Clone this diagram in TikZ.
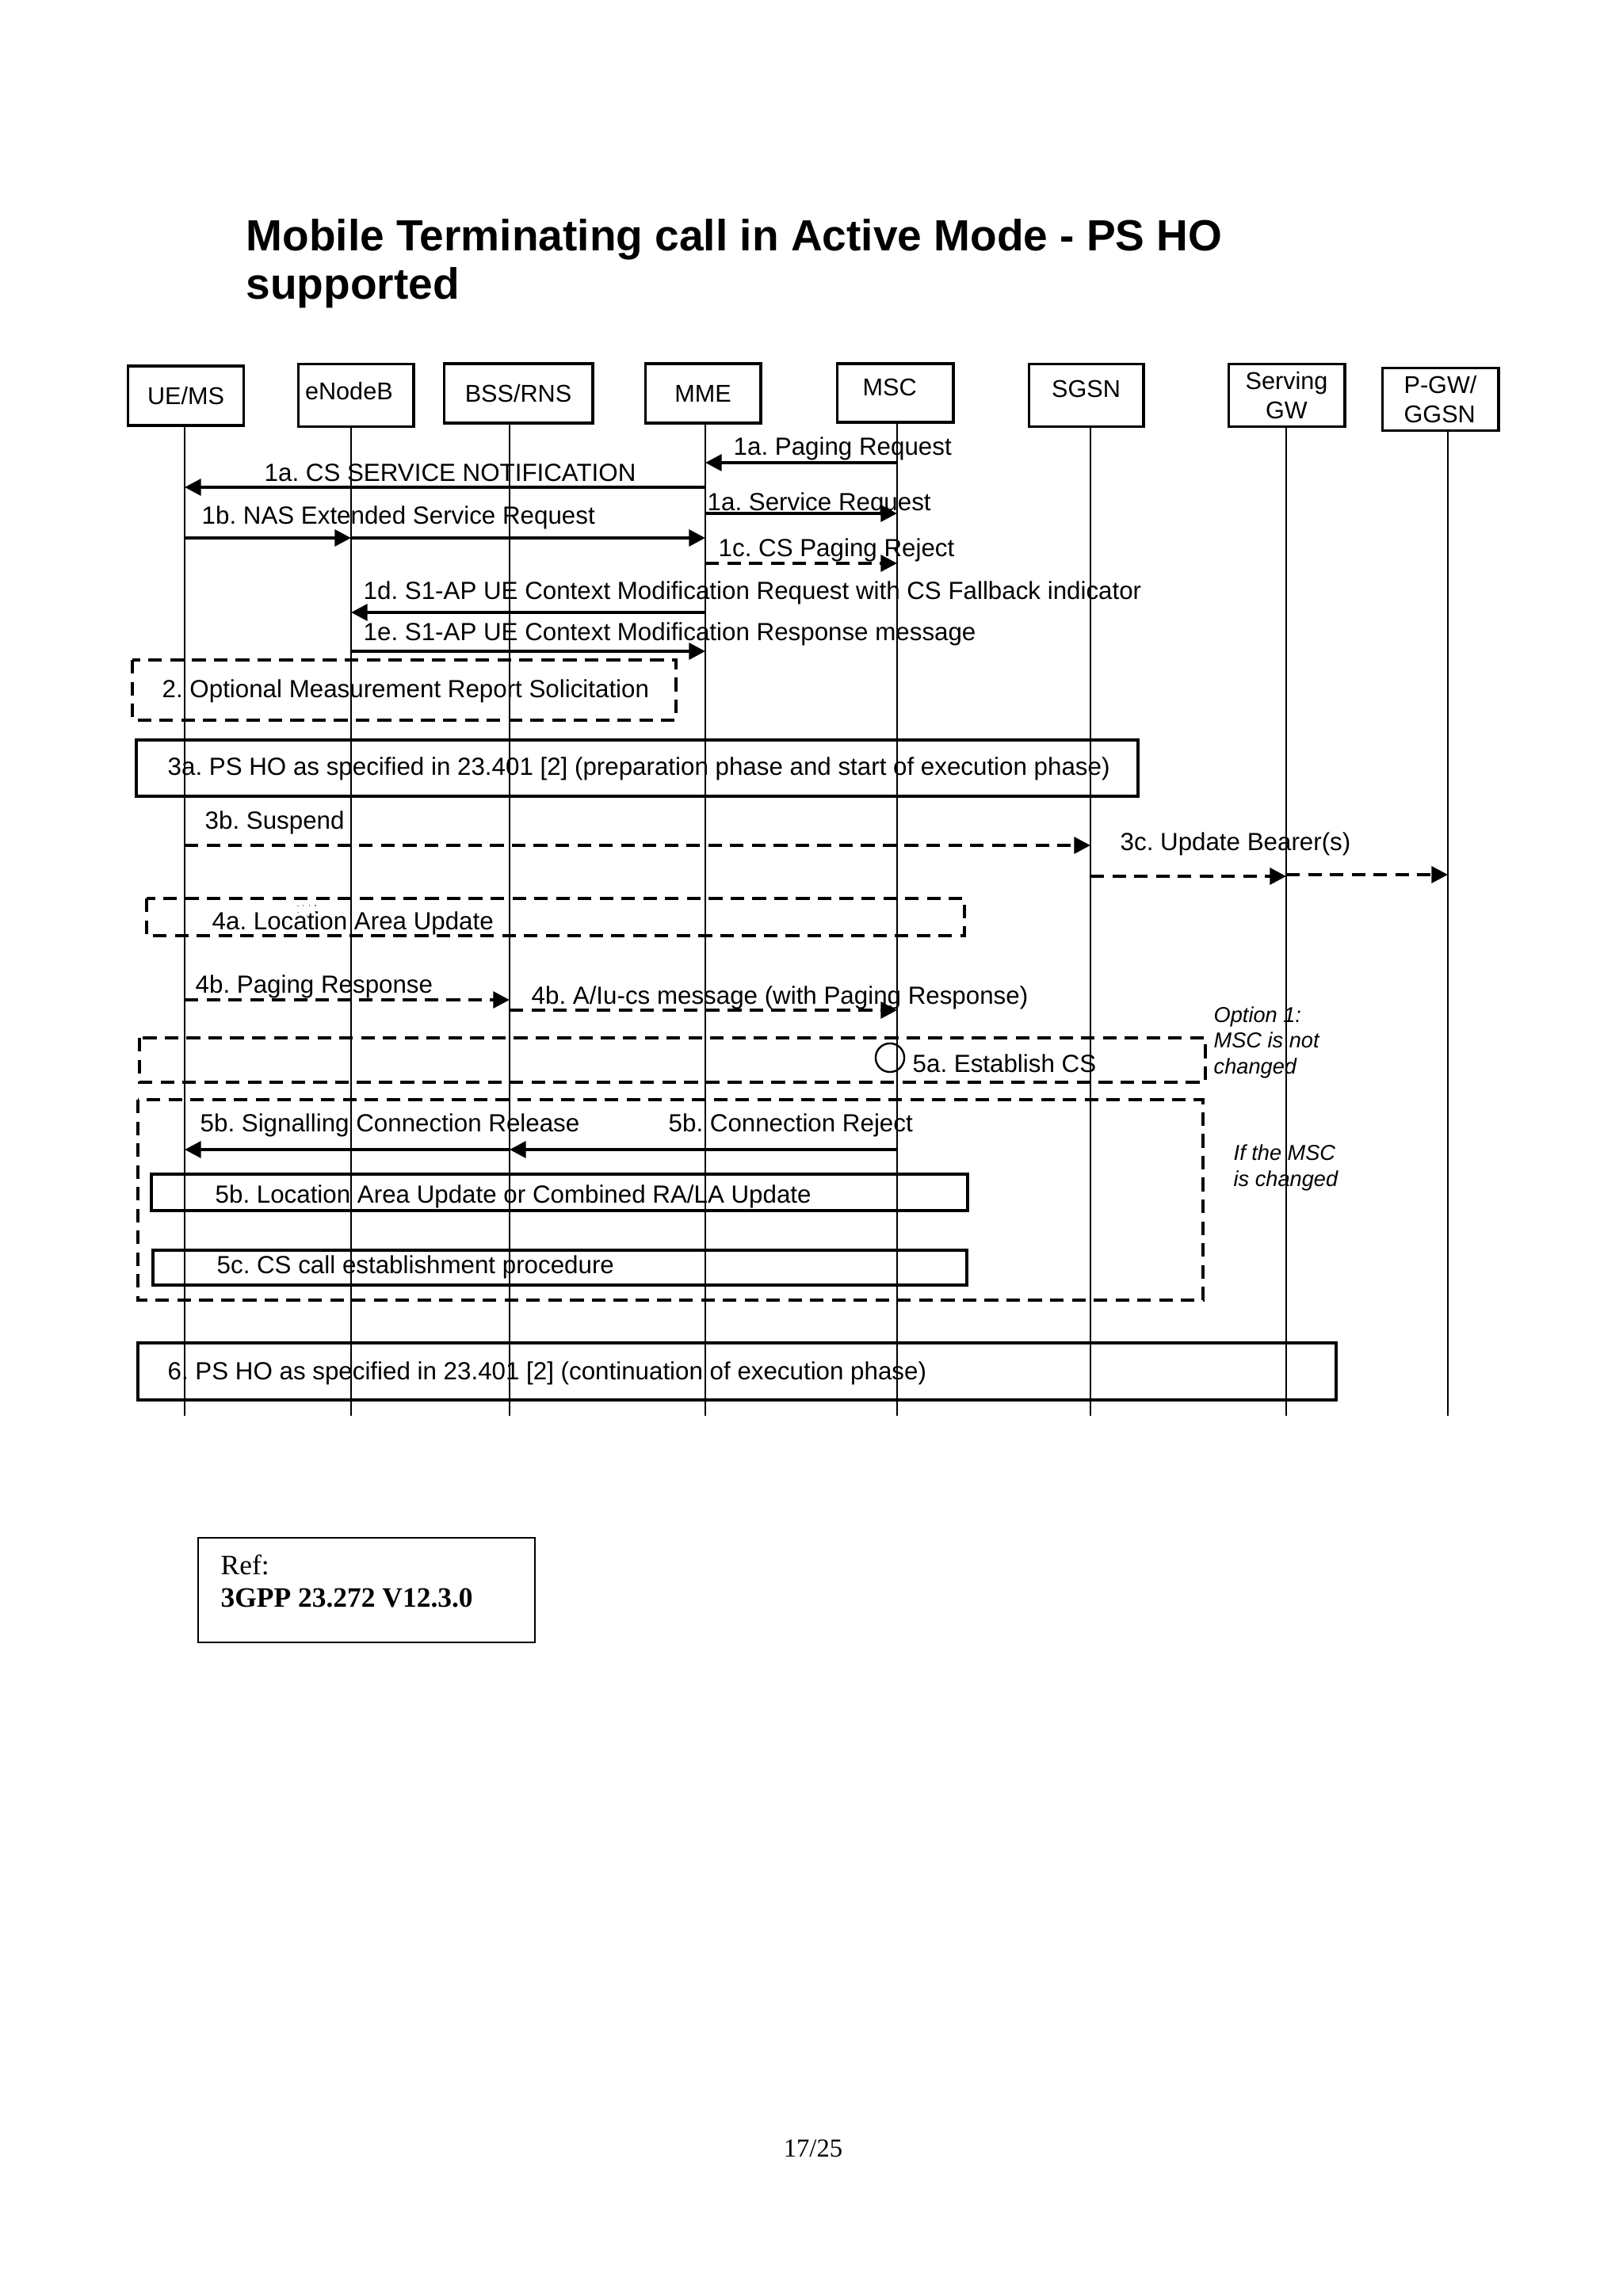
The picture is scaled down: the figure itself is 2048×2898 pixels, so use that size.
\documentclass[tikz,border=0pt]{standalone}
\usepackage{fontspec}
\setmainfont{Liberation Serif}
\setsansfont{Liberation Sans}
\usetikzlibrary{arrows.meta}
\frenchspacing
\begin{document}
\begin{tikzpicture}[x=0.2906pt,y=-0.2906pt,
  lab/.style={font=\sffamily\fontsize{9.1}{10.8}\selectfont, inner sep=0pt, anchor=base west},
  ent/.style={draw, line width=0.9pt, font=\sffamily\fontsize{8.9}{10.7}\selectfont, inner sep=0pt, align=center},
  life/.style={line width=0.75pt},
  msg/.style={line width=1.2pt, -{Triangle[length=6pt,width=6pt]}},
  dmsg/.style={msg, dash pattern=on 5pt off 3pt},
  dbox/.style={line width=1.1pt, dash pattern=on 5pt off 3pt},
  sbox/.style={line width=1.2pt},
  tbox/.style={line width=1pt},
  note/.style={font=\sffamily\itshape\fontsize{7.9}{9}\selectfont, inner sep=0pt, anchor=base west}
]
\useasboundingbox[fill=white] (0,0) rectangle (2048,2898);

% title
\node[inner sep=0pt, anchor=base west, font=\sffamily\bfseries\fontsize{16}{18}\selectfont] (title1) at (310,317) {Mobile Terminating call in Active Mode - PS HO};
\node[inner sep=0pt, anchor=base west, font=\sffamily\bfseries\fontsize{16}{18}\selectfont] (title2) at (310,378) {supported};

% entities
\node[ent, minimum width=42.4pt, minimum height=21.8pt] (ue) at (234.5,499.5) {UE/MS};
\node[ent, minimum width=42.4pt, minimum height=23.2pt] (enb) at (449,499) {\raisebox{3pt}{eNodeB}\hspace{5pt}};
\node[ent, minimum width=54.6pt, minimum height=21.8pt] (bss) at (654,496.5) {BSS/RNS};
\node[ent, minimum width=42.4pt, minimum height=21.8pt] (mme) at (887,496.5) {MME};
\node[ent, minimum width=42.7pt, minimum height=21.5pt] (msc) at (1129.5,496) {\raisebox{4pt}{MSC}\hspace{4pt}};
\node[ent, minimum width=42.1pt, minimum height=23.2pt] (sgsn) at (1370.5,499) {\raisebox{4.6pt}{SGSN}};
\node[ent, minimum width=42.7pt, minimum height=23.2pt] (sgw) at (1623.5,499) {Serving\\GW};
\node[ent, minimum width=42.7pt, minimum height=23.2pt, align=left] (pgw) at (1817.5,504) {P-GW/\\GGSN};

% lifelines
\coordinate (ueT) at (233,537);   \coordinate (ueB) at (233,1787);
\coordinate (enbT) at (443,539);  \coordinate (enbB) at (443,1787);
\coordinate (bssT) at (643,534);  \coordinate (bssB) at (643,1787);
\coordinate (mmeT) at (890,536);  \coordinate (mmeB) at (890,1787);
\coordinate (mscT) at (1132,533); \coordinate (mscB) at (1132,1787);
\coordinate (sgsnT) at (1376,540); \coordinate (sgsnB) at (1376,1787);
\coordinate (sgwT) at (1623,539); \coordinate (sgwB) at (1623,1787);
\coordinate (pgwT) at (1827,544); \coordinate (pgwB) at (1827,1787);
\foreach \n in {ue,enb,bss,mme,msc,sgsn,sgw,pgw}{\draw[life] (\n T) -- (\n B);}

% step 1
\draw[msg] (mscT |- 0,584) -- (mmeT |- 0,584);
\node[lab] (l1a1) at (925,575) {1a. Paging Request};
\draw[msg] (mmeT |- 0,615) -- (ueT |- 0,615);
\node[lab] (l1a2) at (333,607) {1a. CS SERVICE NOTIFICATION};
\draw[msg] (mmeT |- 0,648) -- (mscT |- 0,648);
\node[lab] (l1a3) at (892,644) {1a. Service Request};
\draw[msg] (ueT |- 0,679) -- (enbT |- 0,679);
\draw[msg] (enbT |- 0,679) -- (mmeT |- 0,679);
\node[lab] (l1b) at (254,662) {1b. NAS Extended Service Request};
\draw[dmsg] (mmeT |- 0,711) -- (mscT |- 0,711);
\node[lab] (l1c) at (906,702) {1c. CS Paging Reject};
\draw[msg] (mmeT |- 0,773) -- (enbT |- 0,773);
\node[lab] (l1d) at (458,756) {1d. S1-AP UE Context Modification Request with CS Fallback indicator};
\draw[msg] (enbT |- 0,822) -- (mmeT |- 0,822);
\node[lab] (l1e) at (458,808) {1e. S1-AP UE Context Modification Response message};

% step 2
\draw[dbox] (167,833) rectangle (853,909);
\node[lab] (l2) at (204,880) {2. Optional Measurement Report Solicitation};

% step 3
\draw[sbox] (172,934) rectangle (1436,1005);
\node[lab] (l3a) at (211,978) {3a. PS HO as specified in 23.401 [2] (preparation phase and start of execution phase)};
\draw[dmsg] (ueT |- 0,1067) -- (sgsnT |- 0,1067);
\node[lab] (l3b) at (258,1046) {3b. Suspend};
\draw[dmsg] (sgsnT |- 0,1106) -- (sgwT |- 0,1106);
\draw[dmsg] (sgwT |- 0,1104) -- (pgwT |- 0,1104);
\node[lab] (l3c) at (1413,1073) {3c. Update Bearer(s)};

% step 4
\draw[dbox] (185,1134) rectangle (1217,1181);
\draw[gray, line width=0.3pt, dotted] (376,1143) rectangle (398,1156);
\node[lab] (l4a) at (267,1173) {4a. Location Area Update};
\draw[dmsg] (ueT |- 0,1262) -- (bssT |- 0,1262);
\node[lab] (l4b1) at (246,1253) {4b. Paging Response};
\draw[dmsg] (bssT |- 0,1275) -- (mscT |- 0,1275);
\node[lab] (l4b2) at (670,1267) {4b. A/Iu-cs message (with Paging Response)};

% step 5a
\draw[dbox] (176,1310) rectangle (1521,1366);
\node[circle, draw, line width=0.7pt, minimum size=10.5pt, inner sep=0pt] (c5a) at (1123,1335) {};
\node[lab] (l5a) at (1151,1353) {5a. Establish CS};
\node[note] (n1a) at (1531,1290) {Option 1:};
\node[note] (n1b) at (1531,1322) {MSC is not};
\node[note] (n1c) at (1531,1355) {changed};

% step 5b
\draw[dbox] (174,1388) rectangle (1518,1641);
\draw[msg] (bssT |- 0,1451) -- (ueT |- 0,1451);
\node[lab] (l5b1) at (252,1428) {5b. Signalling Connection Release};
\draw[msg] (mscT |- 0,1451) -- (bssT |- 0,1451);
\node[lab] (l5b2) at (843,1428) {5b. Connection Reject};
\draw[tbox] (191,1482) rectangle (1221,1528);
\node[lab] (l5b3) at (271,1518) {5b. Location Area Update or Combined RA/LA Update};
\draw[tbox] (193,1578) rectangle (1220,1622);
\node[lab] (l5c) at (273,1607) {5c. CS call establishment procedure};
\node[note] (n2a) at (1556,1464) {If the MSC};
\node[note] (n2b) at (1556,1497) {is changed};

% step 6
\draw[sbox] (174,1695) rectangle (1686,1767);
\node[lab] (l6) at (211,1741) {6. PS HO as specified in 23.401 [2] (continuation of execution phase)};

% reference box
\draw[line width=0.5pt] (250,1941) rectangle (675,2073);
\node[inner sep=0pt, anchor=base west, font=\fontsize{10.3}{12}\selectfont] (ref1) at (278,1987) {Ref:};
\node[inner sep=0pt, anchor=base west, font=\bfseries\fontsize{10.3}{12}\selectfont] (ref2) at (278,2028) {3GPP 23.272 V12.3.0};

% page number
\node[inner sep=0pt, anchor=base, font=\fontsize{9.5}{11}\selectfont] (pg) at (1026,2722) {17/25};
\end{tikzpicture}
\end{document}
